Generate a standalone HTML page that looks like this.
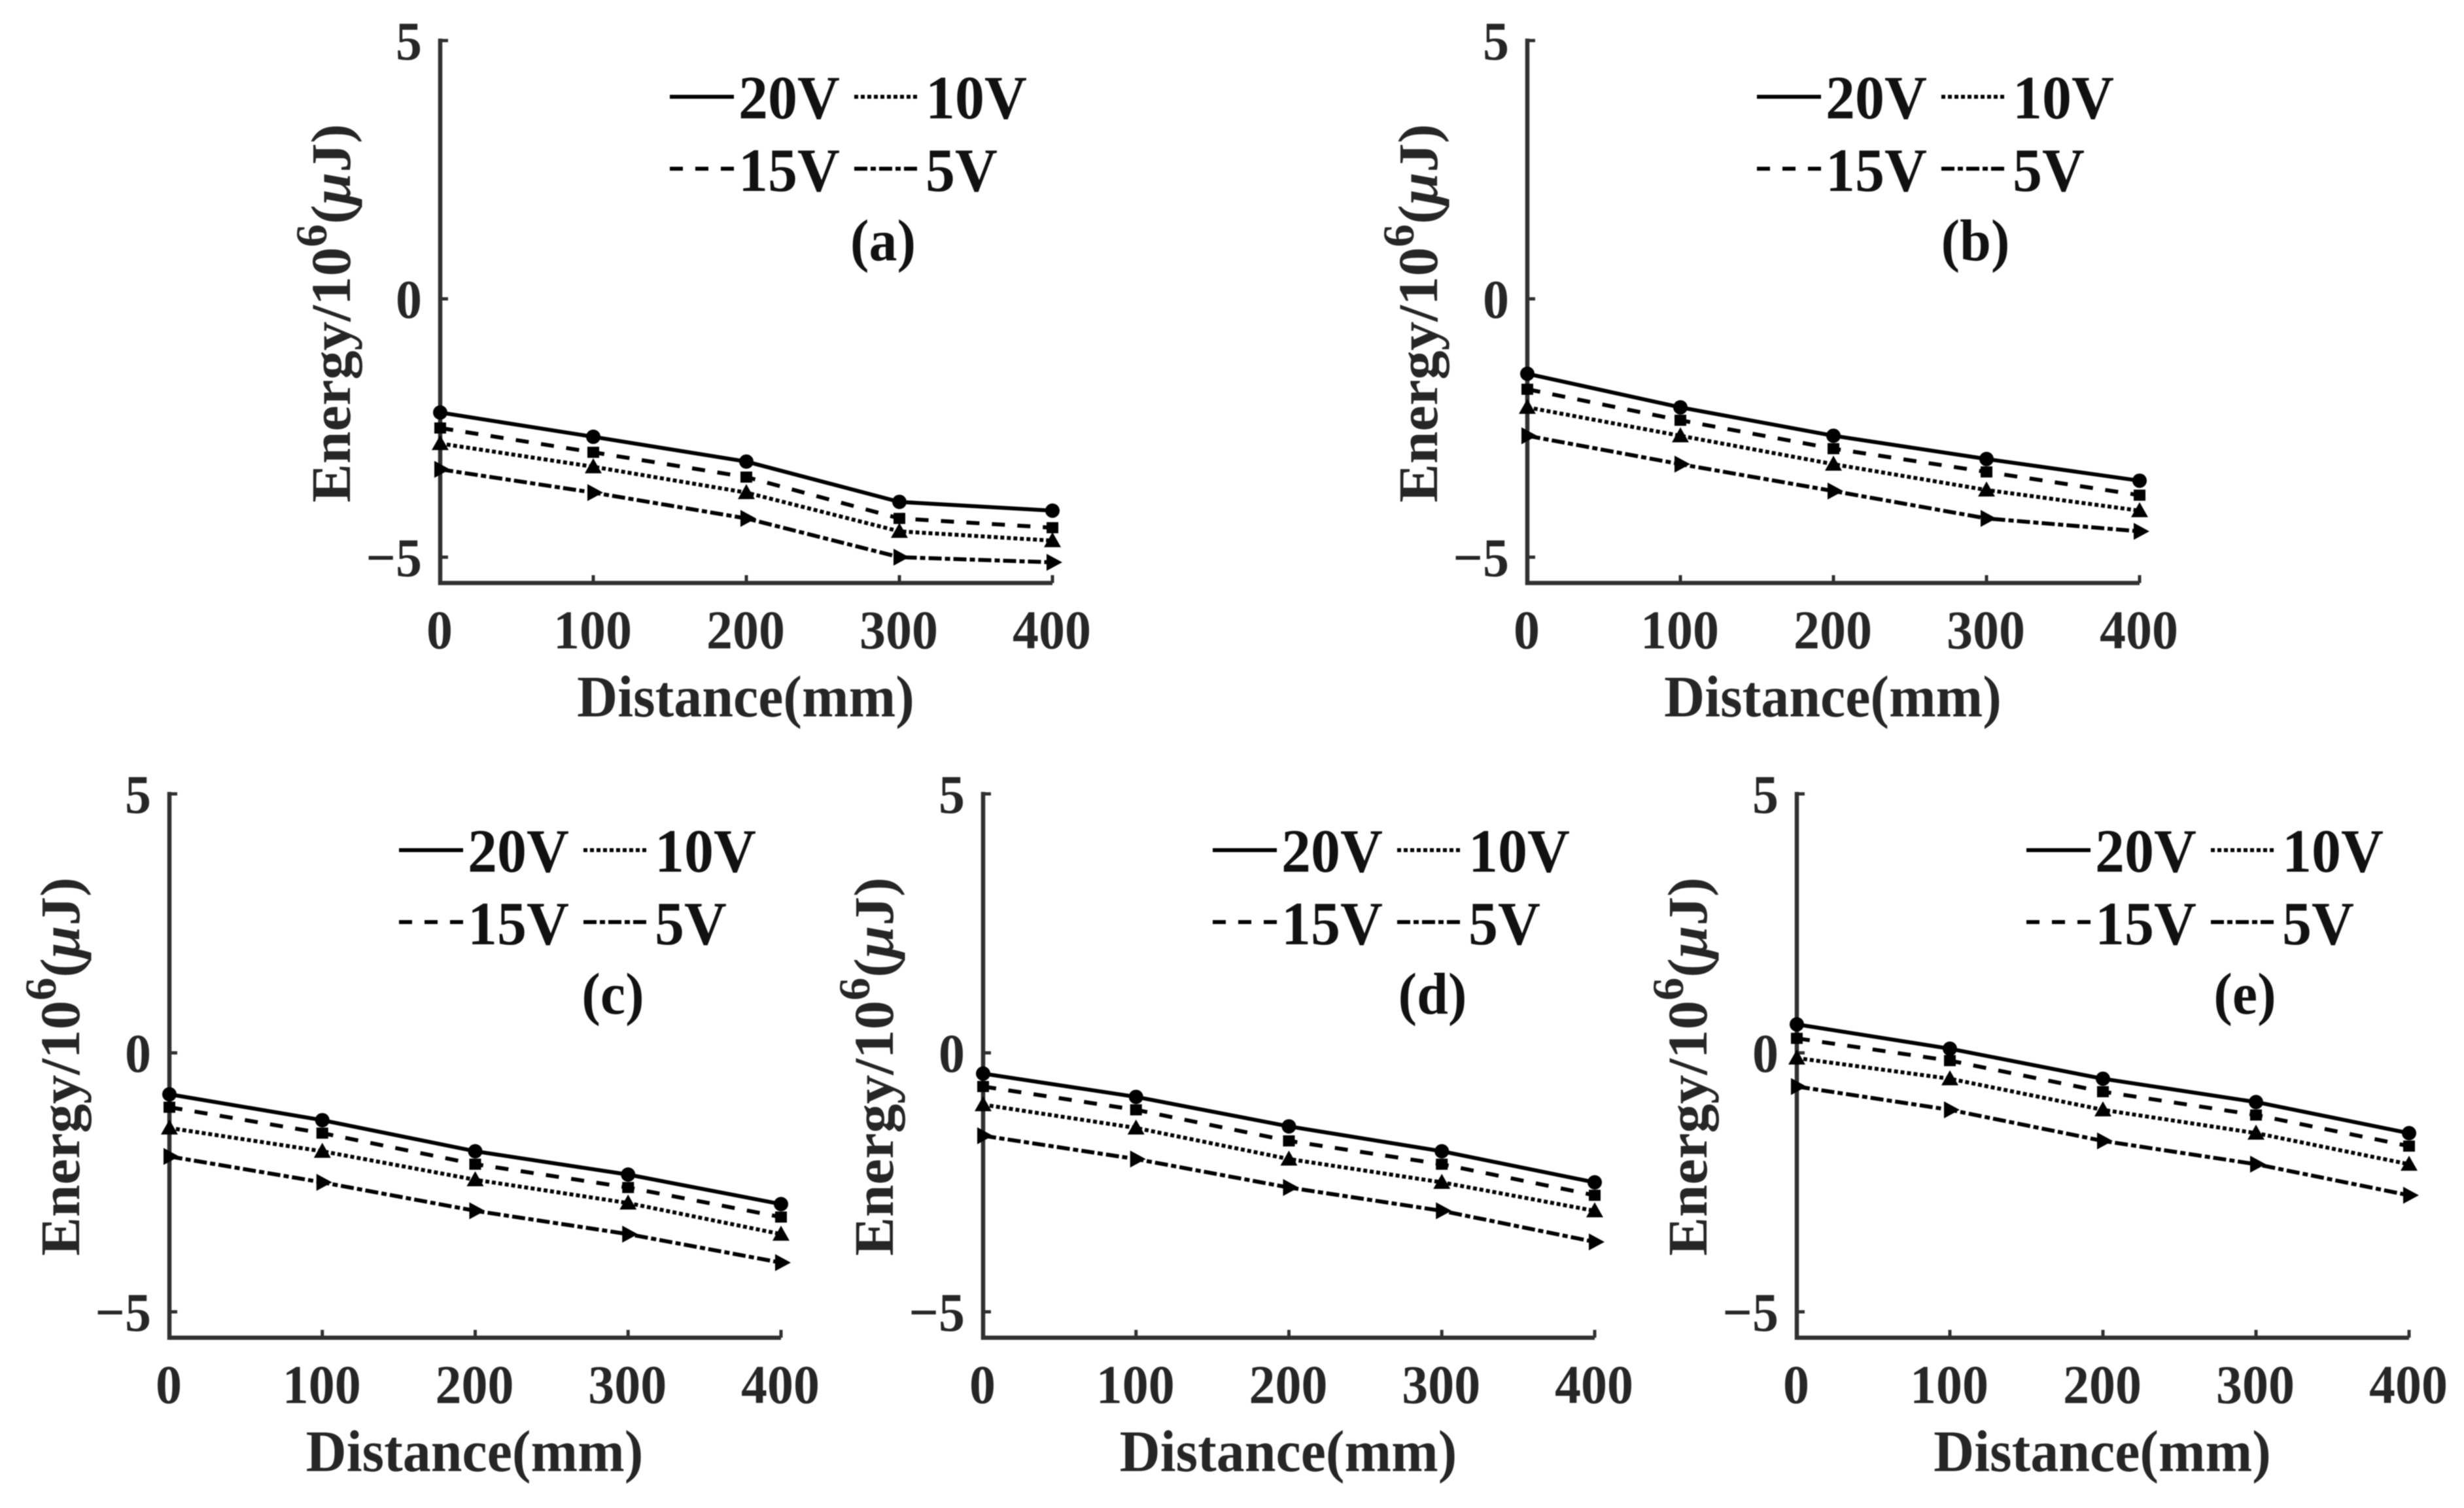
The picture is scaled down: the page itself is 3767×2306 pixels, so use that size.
<!DOCTYPE html>
<html lang="en">
<head>
<meta charset="utf-8">
<title>Energy versus distance at four voltages</title>
<style>
html,body{margin:0;padding:0;background:#fff;width:3767px;height:2306px;overflow:hidden}
svg{display:block;font-family:"Liberation Serif",serif;font-weight:bold;filter:blur(0.8px)}
</style>
</head>
<body>
<svg id="figure" width="3767" height="2306" viewBox="0 0 3767 2306" xmlns="http://www.w3.org/2000/svg"></svg>
<script>
const distances = [0, 100, 200, 300, 400];
const xTickLabels = ["0", "100", "200", "300", "400"];
const yTicks = [5, 0, -5];
const yTickLabels = ["5", "0", "\u22125"];

const a20V = [-2.2, -2.67, -3.15, -3.93, -4.1];
const a15V = [-2.5, -2.97, -3.45, -4.25, -4.43];
const a10V = [-2.8, -3.25, -3.75, -4.5, -4.68];
const a5V = [-3.3, -3.75, -4.25, -5.0, -5.1];

const b20V = [-1.45, -2.1, -2.65, -3.1, -3.52];
const b15V = [-1.75, -2.35, -2.9, -3.35, -3.8];
const b10V = [-2.1, -2.65, -3.2, -3.7, -4.1];
const b5V = [-2.65, -3.2, -3.72, -4.25, -4.5];

const c20V = [-0.8, -1.3, -1.9, -2.35, -2.92];
const c15V = [-1.05, -1.55, -2.15, -2.6, -3.17];
const c10V = [-1.45, -1.9, -2.45, -2.9, -3.5];
const c5V = [-2.0, -2.5, -3.05, -3.5, -4.05];

const d20V = [-0.4, -0.85, -1.42, -1.9, -2.5];
const d15V = [-0.65, -1.1, -1.7, -2.15, -2.75];
const d10V = [-1.0, -1.45, -2.05, -2.5, -3.05];
const d5V = [-1.6, -2.05, -2.6, -3.05, -3.65];

const e20V = [0.55, 0.08, -0.5, -0.95, -1.55];
const e15V = [0.28, -0.15, -0.75, -1.2, -1.8];
const e10V = [-0.1, -0.5, -1.1, -1.55, -2.15];
const e5V = [-0.65, -1.1, -1.7, -2.15, -2.75];

const SVG_NS = "http://www.w3.org/2000/svg";
const root = document.getElementById("figure");
const AXIS_COLOR = "#303030";
const TEXT_COLOR = "#262626";
const DASH_20V = "none";
const DASH_15V = "20 19";
const DASH_10V = "6 4";
const DASH_5V = "20 5 8 5";
const STRETCH = 1.05;

function make(tag, parent, props) {
  const el = document.createElementNS(SVG_NS, tag);
  for (const key in props) el.setAttribute(key, props[key]);
  parent.appendChild(el);
  return el;
}

function place(x, y) {
  return `translate(${x} ${y}) scale(1 ${STRETCH})`;
}

function drawMarker(parent, shape, px, py) {
  let el;
  if (shape === "circle") {
    el = make("circle", parent, { cx: px, cy: py, r: 11, fill: "#000" });
  } else if (shape === "square") {
    el = make("rect", parent, { x: px - 9, y: py - 8.5, width: 18, height: 17, fill: "#000" });
  } else if (shape === "triangle") {
    el = make("polygon", parent, { points: `${px - 13},${py + 10} ${px + 13},${py + 10} ${px},${py - 13}`, fill: "#000" });
  } else {
    el = make("polygon", parent, { points: `${px - 9},${py - 13} ${px - 9},${py + 13} ${px + 15},${py}`, fill: "#000" });
  }
  
  
}

function drawSeries(parent, name, values, dash, shape, xScale, yScale) {
  const group = make("g", parent, {});
  
  
  const points = values.map((v, i) => `${xScale(distances[i])},${yScale(v)}`).join(" ");
  const line = make("polyline", group, { points: points, fill: "none", stroke: "#000", "stroke-width": 6, "stroke-dasharray": dash });
  
  
  values.forEach((v, i) => drawMarker(group, shape, xScale(distances[i]), yScale(v)));
}

function drawLegendEntry(parent, label, dash, lineX1, lineX2, textX, lineY, baseY) {
  const entry = make("g", parent, {});
  
  
  const sample = make("line", entry, { x1: lineX1, x2: lineX2, y1: lineY, y2: lineY, stroke: "#000", "stroke-width": 6, "stroke-dasharray": dash });
  
  
  const text = make("text", entry, { transform: place(textX, baseY), "font-size": 90, fill: "#111" });
  text.textContent = label;
  
  
}

function drawPanel(id, x0, y5, unit, width, labelOffset, s20, s15, s10, s5) {
  const panel = make("g", root, {});
  
  

  const xScale = d => x0 + d / 400 * width;
  const yScale = v => y5 + (5 - v) * unit;
  const yBottom = yScale(-5.5);

  const axes = make("path", panel, {
    d: `M${x0},${y5 - 3}V${yBottom}H${xScale(400)}`,
    fill: "none", stroke: AXIS_COLOR, "stroke-width": 6.5
  });
  
  

  yTicks.forEach((t, i) => {
    const tick = make("line", panel, { x1: x0, x2: x0 + 12, y1: yScale(t), y2: yScale(t), stroke: AXIS_COLOR, "stroke-width": 5 });
    
    
    const label = make("text", panel, { transform: place(x0 - 28, yScale(t) + 29), "text-anchor": "end", "font-size": 80, fill: TEXT_COLOR });
    label.textContent = yTickLabels[i];
    
    
  });

  distances.forEach((d, i) => {
    const tick = make("line", panel, { x1: xScale(d), x2: xScale(d), y1: yBottom, y2: yBottom - 12, stroke: AXIS_COLOR, "stroke-width": 5 });
    
    
    const label = make("text", panel, { transform: place(xScale(d) - 1, yBottom + 100), "text-anchor": "middle", "font-size": 80, fill: TEXT_COLOR });
    label.textContent = xTickLabels[i];
    
    
  });

  const xTitle = make("text", panel, { transform: place(x0 + width / 2 - 1, yBottom + 204), "text-anchor": "middle", "font-size": 86, fill: TEXT_COLOR });
  xTitle.textContent = "Distance(mm)";
  
  

  const titleY = y5 + 417;
  const yTitle = make("text", panel, { transform: `translate(${x0 - 138} ${titleY}) rotate(-90) scale(1.035 1)`, "text-anchor": "middle", "font-size": 86, fill: TEXT_COLOR });
  
  
  yTitle.appendChild(document.createTextNode("Energy/10"));
  const sup = make("tspan", yTitle, { "font-size": 68, dy: -36 });
  sup.textContent = "6";
  const open = make("tspan", yTitle, { dy: 36 });
  open.textContent = "(";
  const mu = make("tspan", yTitle, { "font-style": "italic" });
  mu.textContent = "\u03bc";
  const close = make("tspan", yTitle, {});
  close.textContent = "J)";

  drawSeries(panel, "series-20v", s20, DASH_20V, "circle", xScale, yScale);
  drawSeries(panel, "series-15v", s15, DASH_15V, "square", xScale, yScale);
  drawSeries(panel, "series-10v", s10, DASH_10V, "triangle", xScale, yScale);
  drawSeries(panel, "series-5v", s5, DASH_5V, "arrow", xScale, yScale);

  const legend = make("g", panel, {});
  
  
  const line1 = y5 + 86;
  const line2 = y5 + 196;
  const base1 = y5 + 119;
  const base2 = y5 + 230;
  drawLegendEntry(legend, "20V", DASH_20V, x0 + 351, x0 + 449, x0 + 456, line1, base1);
  drawLegendEntry(legend, "10V", DASH_10V, x0 + 633, x0 + 729, x0 + 742, line1, base1);
  drawLegendEntry(legend, "15V", DASH_15V, x0 + 351, x0 + 449, x0 + 456, line2, base2);
  drawLegendEntry(legend, "5V", DASH_5V, x0 + 633, x0 + 732, x0 + 742, line2, base2);

  const tag = make("text", panel, { transform: place(x0 + labelOffset, y5 + 336), "text-anchor": "middle", "font-size": 86, fill: "#111" });
  tag.textContent = "(" + id + ")";
  
  
}

drawPanel("a", 673, 62, 79, 936, 677, a20V, a15V, a10V, a5V);
drawPanel("b", 2335, 62, 79, 936, 685, b20V, b15V, b10V, b5V);
drawPanel("c", 259, 1214, 79.2, 935, 678, c20V, c15V, c10V, c5V);
drawPanel("d", 1503, 1214, 79.2, 935, 687, d20V, d15V, d10V, d5V);
drawPanel("e", 2747, 1214, 79.2, 936, 685, e20V, e15V, e10V, e5V);
</script>
</body>
</html>
